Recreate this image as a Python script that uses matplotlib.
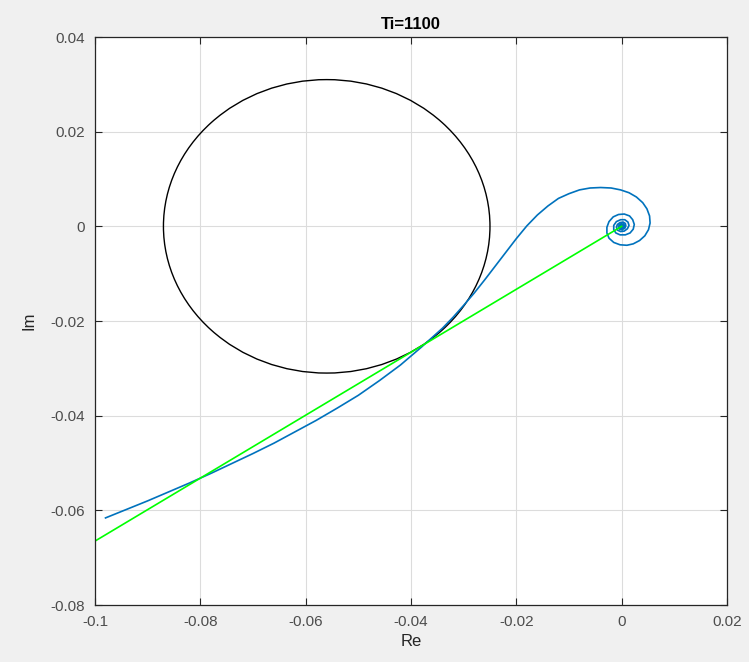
import matplotlib

matplotlib.use("Agg")
import matplotlib.pyplot as plt
from matplotlib.patches import Circle

# Nyquist curve (Re, Im)
re_vals = [
    -0.0980, -0.0940, -0.0900, -0.0860, -0.0820, -0.0780, -0.0740, -0.0700,
    -0.0660, -0.0620, -0.0580, -0.0540, -0.0500, -0.0460, -0.0420, -0.0380,
    -0.0360, -0.0340, -0.0320, -0.0300, -0.0280, -0.0260, -0.0240, -0.0220,
    -0.0200, -0.0180, -0.0160, -0.0140, -0.0120, -0.0100, -0.0080, -0.0060,
    -0.0040, -0.0020, -0.0002, 0.0014, 0.0028, 0.0040, 0.0048, 0.0053,
    0.0054, 0.0051, 0.0044, 0.0034, 0.0022, 0.0010, -0.0003, -0.0015,
    -0.0024, -0.0028, -0.0028, -0.0024, -0.0016, -0.0006, 0.0005, 0.0015,
    0.0021, 0.0024, 0.0022, 0.0016, 0.0007, -0.0003, -0.0011, -0.0015,
    -0.0015, -0.0010, -0.0002, 0.0006, 0.0012, 0.0014, 0.0011, 0.0005,
    -0.0002, -0.0008, -0.0010, -0.0008, -0.0003, 0.0003, 0.0007, 0.0008,
    0.0006, 0.0001, -0.0004, -0.0006, -0.0005, -0.0001, 0.0003, 0.0005,
    0.0004, 0.0000, -0.0003, -0.0003, -0.0001, 0.0002, 0.0002, 0.0000,
    -0.0001, 0.0000,
]
im_vals = [
    -0.0616, -0.0598, -0.0580, -0.0561, -0.0542, -0.0522, -0.0501, -0.0480,
    -0.0458, -0.0434, -0.0410, -0.0384, -0.0357, -0.0326, -0.0293, -0.0255,
    -0.0235, -0.0215, -0.0192, -0.0167, -0.0141, -0.0113, -0.0084, -0.0055,
    -0.0026, 0.0001, 0.0024, 0.0043, 0.0059, 0.0069, 0.0077, 0.0081,
    0.0082, 0.0081, 0.0077, 0.0071, 0.0062, 0.0050, 0.0037, 0.0022,
    0.0007, -0.0007, -0.0020, -0.0030, -0.0037, -0.0040, -0.0039, -0.0034,
    -0.0025, -0.0014, -0.0002, 0.0010, 0.0020, 0.0025, 0.0026, 0.0022,
    0.0014, 0.0004, -0.0006, -0.0014, -0.0018, -0.0018, -0.0014, -0.0007,
    0.0002, 0.0010, 0.0014, 0.0014, 0.0009, 0.0002, -0.0005, -0.0010,
    -0.0011, -0.0008, -0.0002, 0.0004, 0.0008, 0.0009, 0.0006, 0.0001,
    -0.0004, -0.0007, -0.0006, -0.0002, 0.0002, 0.0005, 0.0005, 0.0002,
    -0.0002, -0.0004, -0.0003, 0.0000, 0.0003, 0.0002, -0.0001, -0.0002,
    0.0000, 0.0000,
]

# straight line from the origin
line_re = [-0.1, 0.0]
line_im = [-0.0665, 0.0]

# circle
circle_center = (-0.056, 0.0)
circle_radius = 0.031

x_ticks = [-0.1, -0.08, -0.06, -0.04, -0.02, 0, 0.02]
y_ticks = [-0.08, -0.06, -0.04, -0.02, 0, 0.02, 0.04]

plt.rcParams["font.family"] = ["Liberation Sans", "DejaVu Sans"]

fig = plt.figure(figsize=(7.49, 6.62), dpi=100, facecolor="#f0f0f0")
ax = fig.add_axes([0.1268, 0.0861, 0.8438, 0.858])
ax.set_facecolor("white")

ax.plot(re_vals, im_vals, color="#0072BD", lw=1.2)
ax.plot(line_re, line_im, color="#00ff00", lw=1.2)
ax.add_patch(Circle(circle_center, circle_radius, fill=False, ec="black", lw=1.0))

ax.set_xlim(-0.1, 0.02)
ax.set_ylim(-0.08, 0.04)
ax.set_xticks(x_ticks)
ax.set_yticks(y_ticks)
ax.set_xticklabels(["-0.1", "-0.08", "-0.06", "-0.04", "-0.02", "0", "0.02"])
ax.set_yticklabels(["-0.08", "-0.06", "-0.04", "-0.02", "0", "0.02", "0.04"])
ax.grid(True, color="#dcdcdc", lw=0.8)
ax.set_axisbelow(True)
ax.tick_params(direction="in", length=5, top=True, right=True,
               labelsize=11, colors="#262626", labelcolor="#4d4d4d", pad=7)
for sp in ax.spines.values():
    sp.set_color("#262626")
    sp.set_linewidth(0.9)

ax.set_xlabel("Re", fontsize=12, color="#262626", labelpad=4)
ax.set_ylabel("Im", fontsize=12, color="#262626", labelpad=10)
ax.set_title("Ti=1100", fontsize=12, fontweight="bold", color="black", pad=6)

fig.savefig("out.png", dpi=100, facecolor=fig.get_facecolor())
